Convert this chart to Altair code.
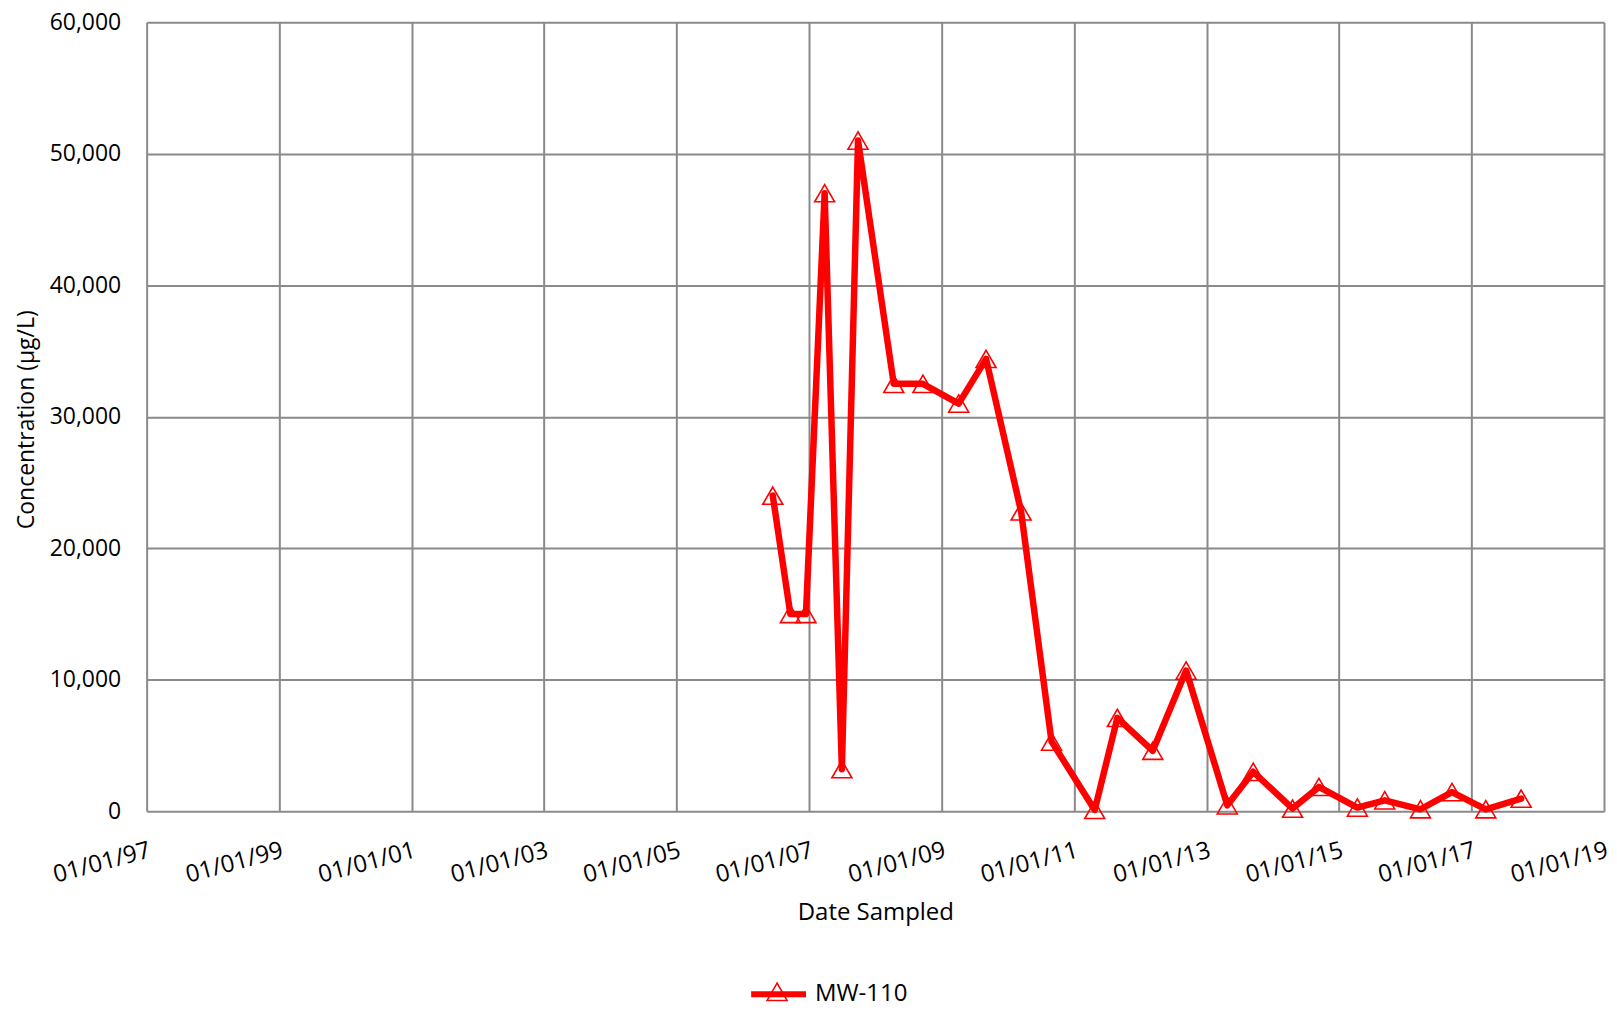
import altair as alt
import pandas as pd

# Sampling dates and concentrations (ug/L) for MW-110
dates = [
    "2006-06-15", "2006-09-20", "2006-12-15", "2007-03-28", "2007-07-01",
    "2007-09-28", "2008-04-12", "2008-09-20", "2009-04-05", "2009-09-03",
    "2010-03-15", "2010-08-30", "2011-04-25", "2011-08-28", "2012-03-10",
    "2012-09-10", "2013-04-25", "2013-09-15", "2014-04-20", "2014-09-12",
    "2015-04-12", "2015-09-10", "2016-03-25", "2016-09-15", "2017-03-20",
    "2017-10-01",
]
values = [
    24000, 15000, 15000, 47000, 3200,
    51000, 32500, 32500, 31000, 34400,
    22800, 5300, 100, 7100, 4600,
    10700, 450, 3000, 200, 1850,
    280, 830, 150, 1460, 150,
    960,
]
series_name = "MW-110"
tick_years = list(range(1997, 2020, 2))
y_ticks = [0, 10000, 20000, 30000, 40000, 50000, 60000]

df = pd.DataFrame({
    "date": dates,
    "value": values,
    "series": [series_name] * len(dates),
    "marker": [series_name] * len(dates),
})

RED = "#FF0000"
GRID = "#8A8A8A"
FONT = "Open Sans"

x_enc = alt.X(
    "date:T",
    scale=alt.Scale(
        type="utc",
        domain=[alt.DateTime(year=1997, month=1, date=1, utc=True),
                alt.DateTime(year=2019, month=1, date=1, utc=True)],
        nice=False,
    ),
    axis=alt.Axis(
        values=[alt.DateTime(year=y, month=1, date=1, utc=True) for y in tick_years],
        format="%m/%d/%y",
        labelAngle=345,
        labelAlign="right",
        labelBaseline="top",
        labelPadding=27,
        labelFontSize=24,
        labelFont=FONT,
        labelColor="#000000",
        labelOverlap=False,
        labelBound=False,
        labelFlush=False,
        ticks=False,
        domain=False,
        grid=True,
        gridColor=GRID,
        gridWidth=2,
        title="Date Sampled",
        titleFont=FONT,
        titleFontSize=24,
        titleFontWeight="normal",
        titleColor="#000000",
        titleBaseline="alphabetic",
        titleY=109,
    ),
)

y_enc = alt.Y(
    "value:Q",
    scale=alt.Scale(domain=[0, 60000], nice=False),
    axis=alt.Axis(
        values=y_ticks,
        format=",d",
        labelFontSize=23,
        labelFont=FONT,
        labelColor="#000000",
        labelPadding=26,
        labelBaseline="middle",
        labelOverlap=False,
        labelBound=False,
        labelFlush=False,
        ticks=False,
        domain=False,
        grid=True,
        gridColor=GRID,
        gridWidth=2,
        title="Concentration (µg/L)",
        titleFont=FONT,
        titleFontSize=23,
        titleFontWeight="normal",
        titleColor="#000000",
        titleAngle=270,
        titleAlign="center",
        titleBaseline="alphabetic",
        titleX=-113,
        titleY=398,
    ),
)

line = alt.Chart(df).mark_line(
    strokeWidth=6.5, strokeJoin="round", strokeCap="round"
).encode(
    x=x_enc,
    y=y_enc,
    color=alt.Color(
        "series:N",
        scale=alt.Scale(domain=[series_name], range=[RED]),
        legend=alt.Legend(
            title=None,
            orient="none",
            legendX=603,
            legendY=944,
            padding=0,
            symbolType="stroke",
            symbolSize=3025,
            symbolStrokeWidth=6,
            symbolStrokeColor=RED,
            labelFont=FONT,
            labelFontSize=24,
            labelColor="#000000",
            labelOffset=6,
        ),
    ),
)

points = alt.Chart(df).mark_point(
    filled=False, color=RED, strokeWidth=1.6, size=400, opacity=1
).encode(
    x="date:T",
    y="value:Q",
    shape=alt.Shape(
        "marker:N",
        scale=alt.Scale(domain=[series_name], range=["triangle-up"]),
        legend=alt.Legend(
            title=None,
            orient="none",
            legendX=621,
            legendY=961,
            padding=0,
            symbolSize=400,
            symbolStrokeWidth=1.6,
            symbolStrokeColor=RED,
            symbolFillColor="transparent",
            labelExpr="''",
            labelFontSize=1,
        ),
    ),
)

chart = alt.layer(points, line).resolve_legend(
    color="independent", shape="independent"
).properties(
    width=1461,
    height=791,
    autosize=alt.AutoSizeParams(type="none"),
    padding={"left": 139, "top": 13, "right": 5, "bottom": 200},
).configure_view(stroke=None)

chart.save("out.html", embed_options={"renderer": "svg", "actions": False})
